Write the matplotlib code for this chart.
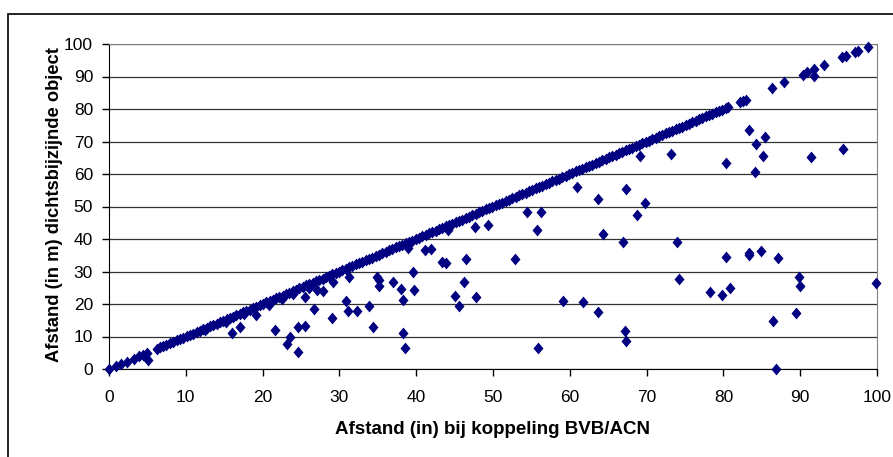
import matplotlib.pyplot as plt
from matplotlib.patches import Rectangle

plt.rcParams['font.family'] = ['Liberation Sans', 'DejaVu Sans']

# punten op de diagonaal (afstand gelijk bij beide methoden)
diag_x = [0.0, 0.9, 1.5, 2.3, 3.2, 3.9, 4.4, 4.9,
          6.3, 6.7, 7.0, 7.4, 7.9, 8.3, 8.8, 9.2, 9.6, 10.1, 10.5, 10.9, 11.4, 11.8,
          12.2, 12.7, 13.1, 13.5, 14.0, 14.4, 14.8, 15.3, 15.7, 16.1, 16.6, 17.0,
          17.4, 17.9, 18.3, 18.7, 19.2, 19.6, 20.0, 20.5, 20.9, 21.3, 21.8, 22.2,
          22.6, 23.1, 23.5, 23.9, 24.4, 24.8, 25.2, 25.7, 26.1, 26.5, 27.0, 27.4,
          27.8, 28.3, 28.7, 29.1, 29.6, 30.0, 30.4, 30.9, 31.3, 31.7, 32.2, 32.6,
          33.0, 33.5, 33.9, 34.3, 34.8, 35.2, 35.6, 36.1, 36.5, 36.9, 37.4, 37.8,
          38.2, 38.7, 39.1, 39.5, 40.0, 40.4, 40.8, 41.3, 41.7, 42.1, 42.6, 43.0,
          43.4, 43.9, 44.3, 44.7, 45.2, 45.6, 46.0, 46.5, 46.9, 47.3, 47.8, 48.2,
          48.6, 49.1, 49.5, 49.9, 50.4, 50.8, 51.2, 51.7, 52.1, 52.5, 53.0, 53.4,
          53.8, 54.3, 54.7, 55.1, 55.6, 56.0, 56.4, 56.9, 57.3, 57.7, 58.2, 58.6,
          59.0, 59.5, 59.9, 60.3, 60.8, 61.2, 61.6, 62.1, 62.5, 62.9, 63.4, 63.8,
          64.2, 64.7, 65.1, 65.5, 66.0, 66.4, 66.8, 67.3, 67.7, 68.1, 68.6, 69.0,
          69.4, 69.9, 70.3, 70.7, 71.2, 71.6, 72.0, 72.5, 72.9, 73.3, 73.8, 74.2,
          74.6, 75.1, 75.5, 75.9, 76.4, 76.8, 77.2, 77.7, 78.1, 78.5, 79.0, 79.4,
          79.8, 80.3, 80.6, 82.2, 82.6, 82.9]

# overige punten (x = afstand bij koppeling, y = afstand dichtstbijzijnde object)
other_x = [5.1, 12.5, 15.2, 16.0, 17.1, 17.6, 19.1, 20.8, 21.6, 22.5, 23.2, 23.6,
           24.0, 24.6, 24.6, 25.5, 25.5, 26.0, 26.7, 27.1, 27.8, 29.0, 29.2, 30.9,
           31.1, 31.2, 32.3, 33.9, 34.4, 34.9, 35.2, 35.2, 37.0, 38.0, 38.3, 38.3,
           38.5, 38.9, 39.6, 39.7, 41.1, 41.9, 43.3, 43.9, 44.2, 45.0, 45.6, 46.2,
           46.5, 47.6, 47.8, 49.3, 52.9, 54.4, 55.7, 55.8, 56.2, 59.1, 61.0, 61.7,
           63.7, 63.7, 64.3, 66.9, 67.3, 67.2, 67.3, 68.7, 69.2, 69.8, 73.2, 74.0,
           74.2, 78.2, 79.8, 80.4, 80.4, 80.9, 83.3, 83.3, 83.3, 84.1, 84.3, 84.9,
           85.1, 85.4, 86.4, 87.1, 86.9, 89.4, 89.9, 90.0, 91.4, 95.6, 99.9,
           86.3, 87.9, 90.4, 90.9, 91.8, 91.8, 93.1, 95.5, 95.9, 97.2, 97.5, 98.8]
other_y = [2.8, 12.0, 14.5, 11.0, 12.9, 16.9, 16.7, 19.7, 12.1, 21.6, 7.7, 10.0,
           23.1, 5.1, 12.9, 13.3, 22.2, 25.0, 18.5, 24.4, 24.1, 15.6, 26.9, 21.0,
           17.7, 28.3, 17.7, 19.3, 12.8, 28.4, 27.5, 25.4, 26.9, 24.6, 21.3, 11.2,
           6.4, 37.2, 29.8, 24.2, 36.5, 37.0, 33.0, 32.5, 42.8, 22.6, 19.3, 26.9,
           33.8, 43.6, 22.2, 44.3, 33.8, 48.4, 42.8, 6.4, 48.4, 21.0, 56.0, 20.6,
           52.3, 17.4, 41.4, 39.0, 55.5, 11.7, 8.7, 47.4, 65.6, 51.2, 66.2, 39.0,
           27.8, 23.7, 22.9, 34.6, 63.3, 25.0, 73.4, 35.8, 35.0, 60.5, 69.3, 36.2,
           65.6, 71.4, 14.8, 34.2, 0.0, 17.3, 28.2, 25.4, 65.3, 67.8, 26.5,
           86.6, 88.2, 90.6, 91.5, 92.3, 90.2, 93.5, 95.9, 96.3, 97.6, 98.0, 99.2]

xticks = list(range(0, 101, 10))
yticks = list(range(0, 101, 10))

navy = '#000080'
# ruit iets hoger dan breed
ruit = [(0, 1), (0.85, 0), (0, -1), (-0.85, 0), (0, 1)]

fig = plt.figure(figsize=(8.93, 4.57), dpi=100)
ax = fig.add_axes([109 / 893, 1 - 369 / 457, 768 / 893, 325 / 457])

# kader om de grafiek
fig.patches.append(Rectangle((8 / 893, -0.1), 1.2, 1 - 14 / 457 + 0.1,
                             transform=fig.transFigure, fill=False,
                             edgecolor='black', linewidth=1.2))

ax.plot(diag_x, diag_x, linestyle='none', marker=ruit, markersize=8.5,
        color=navy, markeredgewidth=0, clip_on=False, zorder=3)
ax.plot(other_x, other_y, linestyle='none', marker=ruit, markersize=8.5,
        color=navy, markeredgewidth=0, clip_on=False, zorder=3)

ax.set_xlim(0, 100)
ax.set_ylim(0, 100)
ax.set_xticks(xticks)
ax.set_yticks(yticks)
ax.tick_params(axis='both', labelsize=12.5, length=5, width=1, direction='out', colors='black')
ax.tick_params(axis='x', pad=10)
ax.tick_params(axis='y', pad=6.5)

ax.yaxis.grid(True, color='#333333', linewidth=0.9)
ax.set_axisbelow(True)
ax.spines['left'].set_color('black')
ax.spines['bottom'].set_color('black')
ax.spines['top'].set_color('#808080')
ax.spines['right'].set_color('#808080')

ax.set_xlabel('Afstand (in) bij koppeling BVB/ACN', fontsize=13.5, fontweight='bold')
ax.set_ylabel('Afstand (in m) dichtsbijzijnde object', fontsize=13.2, fontweight='bold')
ax.xaxis.set_label_coords(0.4993, -0.1615)
ax.yaxis.set_label_coords(-0.0600, 0.505)

fig.savefig('out.png', dpi=100)
